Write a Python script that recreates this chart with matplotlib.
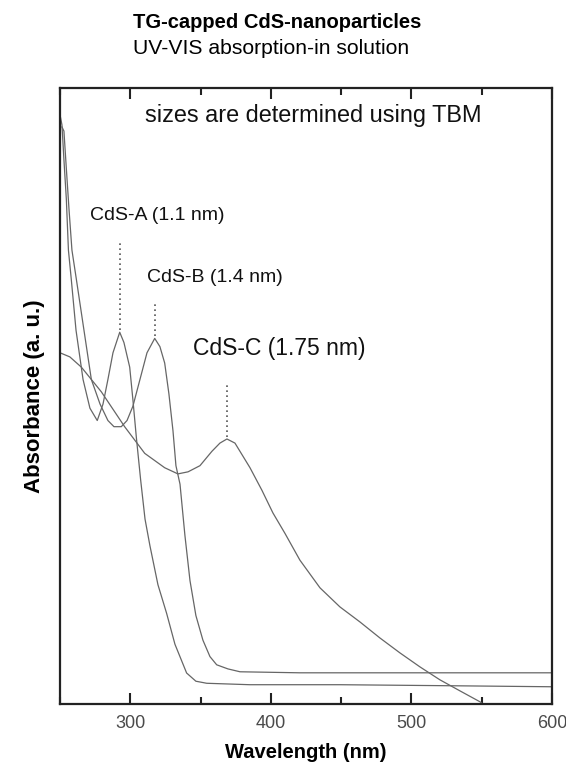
import matplotlib
matplotlib.use("Agg")
import matplotlib.pyplot as plt
from matplotlib.ticker import MultipleLocator

plt.rcParams['font.family'] = ['Liberation Sans', 'DejaVu Sans']

# CdS-A (1.1 nm) spectrum: wavelength (nm), absorbance (a.u.)
wl_a = [250.0, 251.4, 252.8, 254.5, 256.0, 258.0, 261.4, 266.4, 271.3, 276.5,
        280.6, 284.1, 287.7, 292.5, 295.5, 299.6, 301.9, 304.3, 307.4, 310.5,
        314.0, 319.7, 325.9, 331.8, 340.1, 346.7, 354.4, 385.1, 449.2, 527.4, 600.0]
abs_a = [2.87, 2.82, 2.65, 2.46, 2.21, 2.07, 1.82, 1.58, 1.44, 1.38,
         1.46, 1.58, 1.71, 1.81, 1.76, 1.64, 1.48, 1.30, 1.09, 0.90,
         0.77, 0.58, 0.44, 0.29, 0.15, 0.11, 0.10, 0.093, 0.093, 0.088, 0.083]

# CdS-B (1.4 nm)
wl_b = [251.4, 252.8, 254.3, 256.4, 258.5, 261.6, 266.4, 272.3, 278.5, 284.1,
        288.4, 293.6, 297.7, 301.9, 306.9, 311.9, 317.4, 321.1, 324.5, 327.5,
        330.4, 332.5, 335.4, 338.9, 342.5, 346.7, 351.7, 356.7, 361.5, 369.5,
        378.1, 420.7, 491.9, 600.0]
abs_b = [2.81, 2.79, 2.63, 2.41, 2.21, 2.07, 1.85, 1.58, 1.46, 1.38,
         1.35, 1.35, 1.38, 1.45, 1.58, 1.71, 1.78, 1.74, 1.66, 1.51,
         1.33, 1.16, 1.07, 0.82, 0.60, 0.43, 0.31, 0.23, 0.19, 0.17,
         0.156, 0.151, 0.151, 0.151]

# CdS-C (1.75 nm)
wl_c = [250.0, 257.0, 265.2, 279.4, 296.0, 310.3, 324.5, 333.9, 341.1, 349.6,
        358.1, 363.8, 368.8, 374.5, 385.2, 393.7, 401.5, 410.1, 420.7, 435.0,
        449.2, 463.4, 477.6, 491.9, 506.1, 520.3, 534.6, 548.8, 550.9]
abs_c = [1.71, 1.69, 1.64, 1.52, 1.35, 1.22, 1.15, 1.12, 1.13, 1.16,
         1.23, 1.27, 1.29, 1.27, 1.15, 1.04, 0.93, 0.83, 0.70, 0.565,
         0.472, 0.399, 0.321, 0.248, 0.180, 0.117, 0.063, 0.010, 0.0]

# peak markers: wavelength, top and bottom of dotted guide
peak_wl = [292.5, 317.5, 369.0]
peak_top = [2.25, 1.95, 1.56]
peak_bot = [1.82, 1.79, 1.30]

labels = ['CdS-A (1.1 nm)', 'CdS-B (1.4 nm)', 'CdS-C (1.75 nm)']
label_pos = [(271.3, 2.38), (311.9, 2.075), (345.0, 1.73)]
label_size = [14, 14, 16.5]

fig = plt.figure(figsize=(5.66, 7.65), dpi=100)
ax = fig.add_axes([0.106, 0.080, 0.869, 0.805])

line_col = '#666666'
for wl, ab in [(wl_a, abs_a), (wl_b, abs_b), (wl_c, abs_c)]:
    ax.plot(wl, ab, color=line_col, lw=0.9)

for x, top, bot in zip(peak_wl, peak_top, peak_bot):
    ax.plot([x, x], [bot, top], color='#555555', lw=1.2, linestyle=(0, (1, 2)))

for text, (x, y), fs in zip(labels, label_pos, label_size):
    ax.text(x, y, text, fontsize=fs, ha='left', va='center', color='#111111')

ax.text(310.5, 2.865, 'sizes are determined using TBM', fontsize=16.9,
        ha='left', va='center', color='#111111')

ax.set_xlim(250, 600)
ax.set_ylim(0, 3.0)
ax.xaxis.set_major_locator(MultipleLocator(100))
ax.xaxis.set_minor_locator(MultipleLocator(50))
ax.set_yticks([])
ax.tick_params(axis='x', which='both', direction='in', top=True, bottom=True,
               width=1.5, colors='#222222', labelcolor='#4a4a4a', labelsize=13, pad=8)
ax.tick_params(axis='x', which='major', length=8)
ax.tick_params(axis='x', which='minor', length=5)
for sp in ax.spines.values():
    sp.set_linewidth(1.6)
    sp.set_color('#222222')

ax.set_xlabel('Wavelength (nm)', fontsize=14.5, fontweight='bold')
ax.xaxis.set_label_coords(0.5, -0.064)
ax.set_ylabel('Absorbance (a. u.)', fontsize=16, fontweight='bold')
ax.yaxis.set_label_coords(-0.031, 0.5)

fig.text(0.235, 0.970, 'TG-capped CdS-nanoparticles', fontsize=14.5, fontweight='bold',
         ha='left', va='center')
fig.text(0.235, 0.936, 'UV-VIS absorption-in solution', fontsize=15.2,
         ha='left', va='center')

fig.savefig('out.png', dpi=100)
